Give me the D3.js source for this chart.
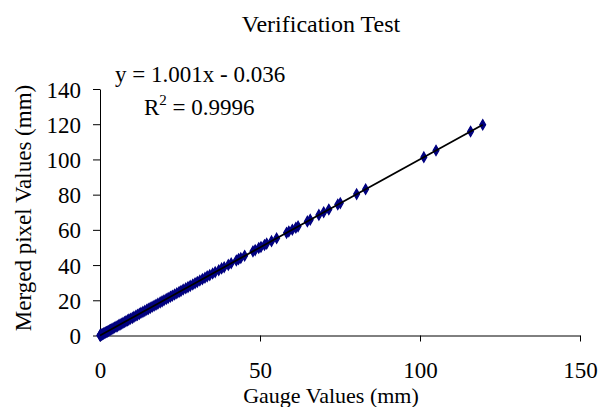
<!DOCTYPE html>
<html><head><meta charset="utf-8">
<script src="https://cdn.jsdelivr.net/npm/d3@7"></script>
<style>body{margin:0;background:#fff}svg{display:block}text{font-family:"Liberation Serif","Times New Roman",serif;fill:#000}</style>
</head><body><svg id="c" width="598" height="407"></svg>
<script>
const gauge = [0,0,0.1,0.2,0.3,0.5,0.6,0.8,1.0,1.2,1.5,1.7,2.0,2.3,2.6,3.0,3.3,3.7,4.1,4.5,5.0,5.4,5.9,6.3,6.8,7.2,7.7,8.1,8.6,9.0,9.5,10.1,10.6,11.2,11.7,12.3,12.8,13.4,14.0,14.6,15.1,15.7,16.3,16.9,17.5,18.1,18.8,19.4,20.0,20.7,21.3,22.0,22.6,23.3,24.0,24.7,25.3,26.0,26.8,27.5,28.2,29.0,29.7,30.4,31.2,32.0,32.8,33.5,34.3,35.2,36.0,37.1,38.0,38.8,40.1,41.0,42.6,43.3,44.0,45.2,47.8,48.5,49.6,50.3,51.4,52.1,53.6,55.2,58.3,59.0,60.1,61.2,61.9,64.8,65.7,68.4,69.9,71.5,74.3,75.1,80.2,83.0,101.2,105.0,115.8,119.6];
const merged = [0,0.1,0.1,0.2,0.2,0.5,0.6,0.7,1.0,1.2,1.4,1.7,2.0,2.2,2.6,3.0,3.3,3.6,4.1,4.5,5.0,5.3,5.9,6.3,6.7,7.2,7.7,8.1,8.6,9.0,9.5,10.0,10.6,11.2,11.7,12.3,12.9,13.4,14.0,14.6,15.1,15.7,16.3,16.9,17.5,18.1,18.8,19.4,20.0,20.7,21.3,22.0,22.6,23.3,24.0,24.7,25.3,26.1,26.8,27.5,28.2,29.0,29.7,30.4,31.2,32.0,32.8,33.6,34.3,35.2,36.0,37.1,38.1,38.8,40.1,41.0,42.6,43.4,44.0,45.3,47.8,48.5,49.7,50.3,51.4,52.2,53.6,55.2,58.3,59.1,60.1,61.2,62.0,64.8,65.8,68.5,70.0,71.6,74.4,75.2,80.3,83.1,101.3,105.1,115.9,119.7];
const xTicks = [0,50,100,150];
const yTicks = [0,20,40,60,80,100,120,140];
const slope = 1.001, intercept = -0.036;
const title = "Verification Test";
const xTitle = "Gauge Values (mm)";
const yTitle = "Merged pixel Values (mm)";

const svg = d3.select("#c");
const x = d3.scaleLinear().domain([0,150]).range([100,580]);
const y = d3.scaleLinear().domain([0,140]).range([335.5,89]);

svg.append("text").attr("x",321).attr("y",32).attr("text-anchor","middle").attr("font-size",24).text(title);

const xa = svg.append("g").attr("transform",`translate(0,${y(0)})`)
  .call(d3.axisBottom(x).tickValues(xTicks).tickSize(6).tickSizeOuter(0).tickPadding(20).tickFormat(d3.format("d")));
const ya = svg.append("g").attr("transform",`translate(${x(0)},0)`)
  .call(d3.axisLeft(y).tickValues(yTicks).tickSize(7).tickSizeOuter(0).tickPadding(12).tickFormat(d3.format("d")));
[xa,ya].forEach(a=>{
  a.select(".domain").attr("stroke","#000").attr("stroke-width",1);
  a.selectAll(".tick line").attr("stroke","#000");
  a.selectAll(".tick text").attr("font-size",23).attr("font-family","Liberation Serif").attr("fill","#000");
});
xa.selectAll(".tick text").attr("dy","0.71em");
ya.selectAll(".tick text").attr("dy","0.35em");

svg.append("text").attr("x",331).attr("y",403).attr("text-anchor","middle").attr("font-size",22).text(xTitle);
svg.append("text").attr("transform",`translate(31,208) rotate(-90)`).attr("text-anchor","middle").attr("font-size",23).text(yTitle);

const dia = d3.symbol().type(d3.symbolDiamond).size(30);
svg.append("g").selectAll("path").data(gauge).join("path")
  .attr("transform",(d,i)=>`translate(${x(d)},${y(merged[i])})`)
  .attr("d",dia).attr("fill","#000080").attr("stroke","#000080").attr("stroke-width",1.2);

const x0 = d3.min(gauge), x1 = d3.max(gauge);
svg.append("line").attr("x1",x(x0)).attr("y1",y(slope*x0+intercept)).attr("x2",x(x1)).attr("y2",y(slope*x1+intercept))
  .attr("stroke","#000").attr("stroke-width",1.8);

svg.append("text").attr("x",115).attr("y",82).attr("font-size",23).text("y = 1.001x - 0.036");
const r = svg.append("text").attr("x",144).attr("y",115).attr("font-size",23);
r.append("tspan").text("R");
r.append("tspan").attr("dy",-10).attr("font-size",15).text("2");
r.append("tspan").attr("dy",10).text(" = 0.9996");
</script></body></html>
